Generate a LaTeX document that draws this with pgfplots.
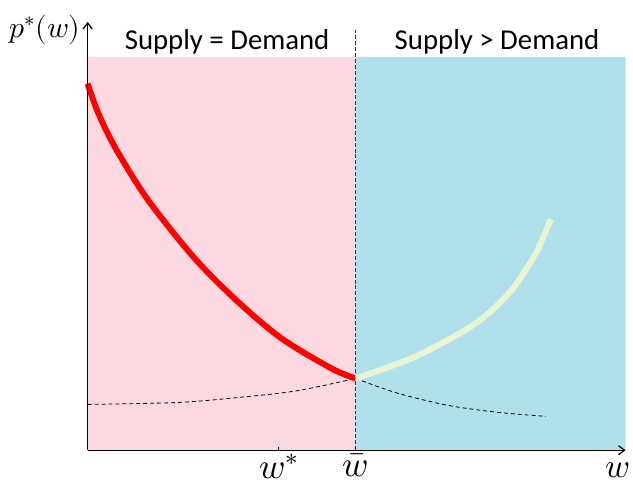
\documentclass[border=0pt]{standalone}
\usepackage{pgfplots}
\pgfplotsset{compat=1.18}
\usepackage{fontspec}
\usepackage{unicode-math}
\setmainfont{Carlito}
\setmathfont{Latin Modern Math}
\usetikzlibrary{arrows.meta}
\definecolor{pinkreg}{RGB}{252,217,224}
\definecolor{bluereg}{RGB}{176,224,236}
\definecolor{lgreen}{RGB}{232,244,210}
\begin{document}
\begin{tikzpicture}
\begin{axis}[
  x=1bp, y=1bp,
  xmin=0, xmax=540, ymin=0, ymax=430,
  axis lines=left,
  axis on top=true,
  axis line style={line width=1.3pt, -{Straight Barb[length=6pt,width=9pt]}},
  clip=false,
  xtick={192,269}, xticklabels={$w^{*}$,$\bar{w}$},
  ytick=\empty,
  tick style={black, line width=1pt},
  major tick length=3pt,
  tick align=inside,
  xticklabel style={font=\fontsize{36}{36}\selectfont, yshift=0pt, anchor=north},
]
\path (axis cs:-88,-34) rectangle (axis cs:545,452);
\addplot[fill=pinkreg, draw=none] coordinates {(0,0)(269,0)(269,395)(0,395)} \closedcycle;
\addplot[fill=bluereg, draw=none] coordinates {(269,0)(540,0)(540,395)(269,395)} \closedcycle;
\addplot[black!80, line width=0.8pt, dash pattern=on 4pt off 2pt] coordinates {(269,0)(269,422)};
% dashed curves
\addplot[black, line width=0.8pt, dash pattern=on 4pt off 3pt, smooth] coordinates {(0,46)(92,48)(162,54)(212,60)(269,72)};
\addplot[black, line width=0.8pt, dash pattern=on 4pt off 3pt, smooth] coordinates {(269,72)(312,57)(362,45)(412,38)(460,34)};
% red curve
\addplot[red, line width=6pt, smooth] coordinates {(0,368)(10,340)(27,305)(60,252)(108,192)(152,148)(195,112)(245,82)(269,72)};
% light green curve
\addplot[lgreen, line width=6pt, smooth] coordinates {(269,72)(329,94)(389,127)(425,160)(450,198)(465,232)};
\node at (axis cs:140,410) {\fontsize{29}{30}\selectfont Supply = Demand};
\node at (axis cs:411,410) {\fontsize{29}{30}\selectfont Supply > Demand};
\node at (axis cs:-43,422) {\fontsize{30}{30}\selectfont $p^{*}(w)$};
\node at (axis cs:532,-20) {\fontsize{34}{34}\selectfont $w$};
\end{axis}
\end{tikzpicture}
\end{document}
